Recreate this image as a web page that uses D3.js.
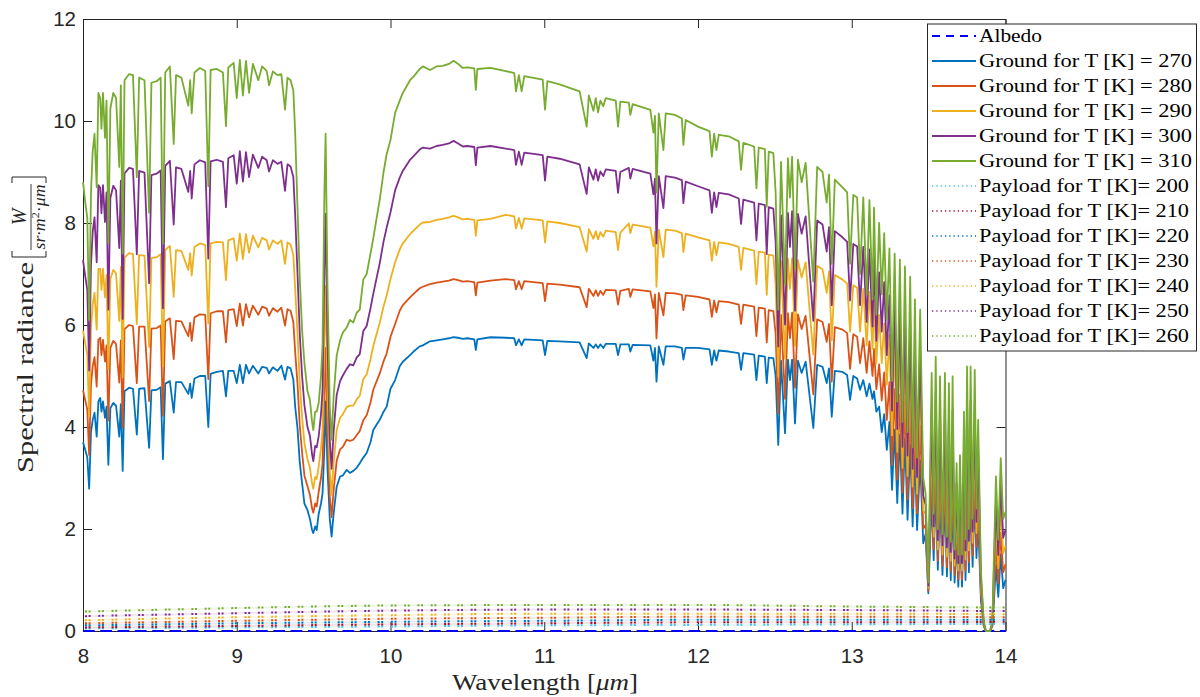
<!DOCTYPE html>
<html><head><meta charset="utf-8">
<script src="https://cdn.jsdelivr.net/npm/d3@7"></script>
<style>body{margin:0;background:#fff}svg{display:block}</style>
</head><body>
<svg id="chart" width="1200" height="697"></svg>
<script>
// Wavelength grid [µm] shared by the five ground spectra
const wavelength = [8.000,8.015,8.028,8.040,8.052,8.063,8.075,8.089,8.100,8.112,8.120,8.130,8.143,8.153,8.165,8.178,8.197,8.215,8.236,8.246,8.258,8.270,8.300,8.325,8.350,8.365,8.400,8.430,8.445,8.480,8.505,8.520,8.535,8.565,8.590,8.605,8.640,8.685,8.697,8.707,8.725,8.760,8.795,8.815,8.830,8.870,8.910,8.930,8.945,8.980,9.000,9.020,9.040,9.060,9.080,9.105,9.140,9.165,9.195,9.210,9.235,9.265,9.290,9.314,9.330,9.350,9.368,9.380,9.395,9.410,9.425,9.440,9.460,9.476,9.490,9.498,9.510,9.520,9.533,9.548,9.558,9.570,9.578,9.590,9.605,9.617,9.630,9.650,9.672,9.690,9.715,9.736,9.758,9.780,9.800,9.823,9.845,9.870,9.888,9.910,9.930,9.955,9.975,10.000,10.030,10.060,10.080,10.127,10.150,10.190,10.210,10.257,10.300,10.340,10.380,10.410,10.440,10.470,10.500,10.545,10.555,10.565,10.650,10.750,10.805,10.816,10.835,10.853,10.870,10.990,11.005,11.020,11.100,11.230,11.276,11.290,11.320,11.335,11.350,11.365,11.384,11.400,11.465,11.480,11.495,11.550,11.560,11.575,11.690,11.710,11.720,11.730,11.745,11.775,11.790,11.850,11.895,11.905,11.920,12.000,12.075,12.090,12.105,12.120,12.135,12.200,12.265,12.280,12.295,12.365,12.380,12.395,12.435,12.447,12.460,12.490,12.505,12.522,12.540,12.566,12.585,12.598,12.612,12.631,12.650,12.674,12.700,12.750,12.775,12.810,12.837,12.852,12.870,12.890,12.940,12.970,12.989,13.010,13.035,13.054,13.075,13.097,13.115,13.135,13.145,13.160,13.178,13.195,13.211,13.228,13.245,13.262,13.279,13.296,13.313,13.330,13.346,13.363,13.380,13.396,13.411,13.425,13.445,13.465,13.480,13.498,13.520,13.533,13.546,13.560,13.574,13.590,13.606,13.619,13.632,13.644,13.656,13.669,13.682,13.693,13.704,13.717,13.730,13.740,13.750,13.762,13.773,13.786,13.800,13.811,13.822,13.840,13.858,13.872,13.900,13.915,13.925,13.938,13.953,13.969,13.985,14.000];

// Spectral radiance [W/(sr m^2 µm)] seen from ground at each temperature
const ground270 = [3.70,3.55,3.40,2.79,3.90,4.14,4.28,3.81,4.50,4.57,4.30,4.50,4.18,4.40,3.26,4.37,4.47,4.42,3.81,4.45,3.14,4.70,4.77,4.75,3.85,4.75,4.76,3.59,4.72,4.73,4.78,3.37,4.85,4.90,4.28,4.88,4.88,4.65,4.85,4.57,4.95,5.00,5.00,4.00,5.04,5.08,5.10,4.60,5.10,5.10,4.86,5.22,4.86,5.22,5.05,5.20,5.05,5.18,5.16,5.05,5.17,5.10,5.20,4.93,5.18,5.15,4.93,4.40,3.98,3.30,2.90,2.50,2.37,2.20,1.98,1.92,2.05,1.98,2.30,2.50,2.70,3.60,4.50,3.20,2.20,1.85,2.30,2.83,3.03,3.05,3.16,3.10,3.14,3.20,3.29,3.40,3.49,3.70,3.94,4.05,4.14,4.30,4.40,4.75,4.92,5.19,5.28,5.41,5.48,5.58,5.60,5.68,5.70,5.72,5.74,5.76,5.75,5.73,5.74,5.72,5.51,5.72,5.76,5.75,5.74,5.60,5.72,5.60,5.72,5.70,5.41,5.69,5.68,5.66,5.35,5.64,5.55,5.62,5.55,5.62,5.55,5.63,5.63,5.41,5.62,5.62,5.48,5.61,5.60,5.30,5.55,4.89,5.58,5.22,5.58,5.58,5.55,5.32,5.55,5.55,5.52,5.22,5.50,5.30,5.50,5.48,5.45,5.12,5.45,5.42,4.92,5.40,5.38,4.86,5.36,5.35,5.00,3.65,5.30,3.88,5.32,4.92,5.32,4.07,5.30,5.06,5.28,3.98,5.22,5.18,4.86,5.15,4.20,5.10,5.08,5.02,4.53,5.00,4.95,4.73,4.92,4.60,4.85,4.55,4.70,4.30,4.40,3.90,4.25,3.55,4.10,2.77,3.95,2.51,3.85,2.30,3.78,2.18,3.65,2.05,3.45,1.98,3.35,1.72,1.90,0.74,2.60,1.39,2.80,1.20,2.60,1.10,2.60,1.07,2.50,1.00,2.60,0.95,1.80,0.87,1.90,0.87,2.30,1.00,2.70,1.15,2.70,1.26,2.65,1.43,2.20,0.60,0.10,0.00,0.00,0.10,0.60,1.30,0.67,1.50,0.84,1.00];
const ground280 = [4.72,4.52,4.34,3.45,4.84,5.19,5.37,4.79,5.71,5.75,5.41,5.71,5.28,5.60,4.13,5.55,5.69,5.63,4.87,5.70,3.99,5.92,6.00,5.98,4.86,5.97,5.97,4.51,5.93,5.94,5.99,4.22,6.07,6.13,5.33,6.08,6.07,5.78,6.04,5.69,6.15,6.21,6.20,4.94,6.23,6.27,6.27,5.66,6.29,6.31,5.98,6.42,5.99,6.41,6.15,6.38,6.20,6.36,6.32,6.18,6.33,6.26,6.34,5.99,6.31,6.28,6.06,5.47,4.85,4.02,3.50,3.05,2.84,2.67,2.40,2.32,2.50,2.44,2.73,3.00,3.28,4.60,5.55,3.92,2.64,2.23,2.76,3.34,3.56,3.61,3.75,3.73,3.75,3.84,3.92,4.13,4.23,4.48,4.73,4.90,5.05,5.29,5.44,5.77,6.02,6.28,6.39,6.54,6.61,6.72,6.75,6.80,6.83,6.85,6.87,6.90,6.88,6.85,6.86,6.84,6.58,6.83,6.87,6.90,6.88,6.70,6.86,6.70,6.86,6.82,6.47,6.81,6.79,6.74,6.35,6.71,6.57,6.68,6.57,6.67,6.59,6.69,6.68,6.40,6.67,6.71,6.55,6.70,6.66,6.33,6.60,5.74,6.63,6.19,6.63,6.62,6.59,6.29,6.58,6.55,6.50,6.16,6.48,6.25,6.47,6.45,6.40,6.02,6.40,6.36,5.78,6.34,6.32,5.66,6.29,6.27,5.83,4.26,6.20,4.55,6.23,5.74,6.24,4.77,6.21,5.92,6.18,4.64,6.11,6.06,5.67,6.02,4.89,5.96,5.91,5.84,5.14,5.82,5.77,5.25,5.74,5.06,5.68,5.00,5.53,4.74,5.23,4.52,5.07,4.14,4.88,3.26,4.74,2.97,4.64,2.71,4.56,2.58,4.41,2.41,4.15,2.31,4.03,2.01,2.08,0.79,3.17,1.60,3.39,1.38,3.15,1.28,3.17,1.25,3.04,1.17,3.15,1.10,2.14,1.01,2.26,1.01,2.76,1.18,3.27,1.35,3.27,1.48,3.22,1.65,2.65,0.74,0.12,0.00,0.00,0.12,0.81,1.70,0.93,1.93,1.15,1.31];
const ground290 = [5.89,5.64,5.42,4.21,5.92,6.40,6.63,5.91,7.10,7.10,6.69,7.10,6.54,6.98,5.13,6.90,7.08,7.01,6.08,7.14,4.97,7.32,7.41,7.39,6.02,7.37,7.36,5.57,7.31,7.33,7.39,5.19,7.47,7.55,6.55,7.47,7.45,7.08,7.41,6.97,7.53,7.60,7.57,6.03,7.60,7.63,7.62,6.88,7.66,7.70,7.26,7.79,7.29,7.78,7.42,7.75,7.52,7.71,7.66,7.48,7.66,7.59,7.66,7.20,7.62,7.58,7.37,6.71,5.85,4.85,4.19,3.69,3.37,3.20,2.89,2.79,3.02,2.98,3.23,3.58,3.95,5.75,6.76,4.75,3.15,2.67,3.29,3.94,4.18,4.25,4.39,4.42,4.42,4.54,4.61,4.94,5.03,5.33,5.59,5.83,6.04,6.37,6.58,6.90,7.23,7.48,7.60,7.78,7.85,7.97,8.01,8.02,8.06,8.08,8.11,8.14,8.11,8.07,8.08,8.06,7.75,8.05,8.08,8.16,8.13,7.89,8.10,7.89,8.09,8.05,7.62,8.03,8.00,7.92,7.44,7.88,7.69,7.84,7.68,7.82,7.73,7.85,7.82,7.47,7.81,7.99,7.80,7.97,7.91,7.54,7.83,6.75,7.87,7.33,7.87,7.85,7.80,7.43,7.79,7.72,7.66,7.26,7.63,7.37,7.62,7.59,7.53,7.08,7.51,7.46,6.80,7.44,7.42,6.59,7.38,7.36,6.80,4.98,7.25,5.34,7.30,6.71,7.31,5.59,7.27,6.93,7.23,5.42,7.16,7.09,6.63,7.05,5.70,6.98,6.89,6.81,5.87,6.78,6.73,5.87,6.71,5.60,6.65,5.53,6.50,5.25,6.20,5.25,6.03,4.83,5.80,3.84,5.68,3.51,5.57,3.20,5.47,3.04,5.30,2.83,4.98,2.69,4.83,2.36,2.30,0.85,3.83,1.85,4.09,1.60,3.80,1.50,3.83,1.46,3.68,1.38,3.80,1.28,2.55,1.19,2.68,1.19,3.30,1.40,3.95,1.58,3.95,1.73,3.89,1.92,3.17,0.90,0.15,0.00,0.00,0.15,1.05,2.17,1.23,2.45,1.52,1.67];
const ground300 = [7.27,6.95,6.69,5.11,7.19,7.82,8.11,7.23,8.74,8.69,8.19,8.74,8.02,8.60,6.30,8.49,8.73,8.64,7.51,8.83,6.12,8.97,9.08,9.06,7.39,9.02,8.99,6.82,8.94,8.97,9.03,6.33,9.12,9.22,7.97,9.09,9.06,8.61,9.02,8.48,9.15,9.23,9.19,7.30,9.21,9.24,9.20,8.31,9.27,9.33,8.77,9.41,8.81,9.39,8.90,9.34,9.08,9.30,9.23,9.01,9.23,9.16,9.20,8.63,9.15,9.11,8.90,8.16,7.02,5.82,5.00,4.43,4.00,3.83,3.46,3.33,3.63,3.60,3.82,4.25,4.73,7.10,8.18,5.72,3.74,3.18,3.91,4.63,4.90,5.01,5.14,5.23,5.21,5.36,5.43,5.88,5.98,6.33,6.61,6.93,7.21,7.64,7.91,8.21,8.64,8.89,9.02,9.24,9.31,9.44,9.48,9.46,9.51,9.53,9.56,9.61,9.56,9.50,9.51,9.49,9.13,9.48,9.51,9.46,9.43,9.14,9.40,9.14,9.38,9.33,8.83,9.30,9.26,9.15,8.57,9.09,8.85,9.05,8.83,9.01,8.92,9.05,9.02,8.59,9.00,9.08,8.87,9.06,8.97,8.56,8.87,7.60,8.92,8.29,8.92,8.89,8.84,8.39,8.81,8.72,8.64,8.20,8.60,8.31,8.59,8.56,8.48,7.98,8.46,8.40,7.66,8.38,8.35,7.39,8.31,8.28,7.63,5.58,8.15,6.01,8.20,7.53,8.23,6.28,8.18,7.79,8.13,6.08,8.05,7.97,7.44,7.92,6.39,7.84,7.72,7.63,6.48,7.59,7.54,6.39,7.53,6.06,7.48,5.97,7.33,5.69,7.03,5.87,6.84,5.41,6.58,4.32,6.47,3.96,6.35,3.61,6.24,3.44,6.06,3.18,5.68,3.02,5.50,2.65,2.48,0.89,4.40,2.05,4.68,1.78,4.34,1.68,4.40,1.64,4.22,1.55,4.34,1.42,2.89,1.33,3.03,1.33,3.76,1.58,4.52,1.77,4.52,1.95,4.45,2.14,3.62,1.04,0.17,0.00,0.00,0.17,1.26,2.56,1.49,2.88,1.83,1.98];
const ground310 = [8.80,8.40,8.10,6.10,8.60,9.40,9.75,8.70,10.55,10.45,9.85,10.55,9.67,10.40,7.60,10.25,10.55,10.45,9.10,10.70,7.40,10.80,10.92,10.90,8.90,10.85,10.80,8.20,10.75,10.78,10.85,7.60,10.95,11.07,9.55,10.90,10.85,10.30,10.80,10.15,10.95,11.04,10.98,8.72,11.00,11.02,10.95,9.90,11.05,11.14,10.45,11.20,10.50,11.18,10.55,11.12,10.80,11.07,10.98,10.70,10.97,10.90,10.92,10.22,10.85,10.80,10.60,9.77,8.32,6.90,5.90,5.26,4.70,4.53,4.10,3.94,4.30,4.30,4.47,5.00,5.60,8.60,9.75,6.80,4.40,3.75,4.60,5.40,5.70,5.85,5.95,6.10,6.05,6.24,6.30,6.89,7.00,7.40,7.70,8.10,8.46,9.00,9.35,9.63,10.16,10.40,10.55,10.80,10.87,11.02,11.07,11.00,11.07,11.08,11.12,11.18,11.12,11.04,11.05,11.03,10.61,11.02,11.04,10.98,10.94,10.58,10.90,10.58,10.88,10.81,10.22,10.78,10.72,10.58,9.89,10.50,10.20,10.45,10.17,10.40,10.29,10.45,10.40,9.89,10.38,10.36,10.12,10.33,10.22,9.77,10.10,8.60,10.15,9.43,10.15,10.12,10.05,9.53,10.02,9.89,9.80,9.30,9.75,9.43,9.73,9.70,9.60,9.04,9.57,9.50,8.68,9.48,9.45,8.32,9.40,9.37,8.60,6.30,9.20,6.80,9.27,8.50,9.30,7.10,9.24,8.80,9.18,6.85,9.10,9.00,8.40,8.95,7.20,8.85,8.70,8.60,7.20,8.55,8.50,7.00,8.50,6.60,8.45,6.50,8.30,6.20,8.00,6.60,7.80,6.10,7.50,4.90,7.40,4.50,7.28,4.10,7.15,3.90,6.95,3.60,6.50,3.40,6.30,3.00,2.70,0.95,5.06,2.30,5.38,2.00,4.99,1.90,5.06,1.85,4.86,1.75,4.99,1.60,3.29,1.50,3.45,1.50,4.30,1.80,5.19,2.00,5.19,2.20,5.12,2.40,4.14,1.20,0.20,0.00,0.00,0.20,1.50,3.03,1.79,3.39,2.20,2.34];

// Radiance emitted by the payload at each temperature
const payloadWavelength = [8, 9, 10, 11, 12, 13, 14];
const payload200 = [0.05, 0.07, 0.09, 0.11, 0.12, 0.13, 0.14];
const payload210 = [0.07, 0.10, 0.13, 0.15, 0.17, 0.17, 0.18];
const payload220 = [0.11, 0.15, 0.18, 0.20, 0.22, 0.22, 0.22];
const payload230 = [0.15, 0.20, 0.24, 0.26, 0.28, 0.28, 0.27];
const payload240 = [0.21, 0.27, 0.31, 0.34, 0.34, 0.34, 0.33];
const payload250 = [0.29, 0.35, 0.40, 0.42, 0.42, 0.41, 0.39];
const payload260 = [0.38, 0.45, 0.50, 0.51, 0.51, 0.48, 0.46];

// Albedo contribution
const albedoWavelength = [8, 14];
const albedo = [0, 0];

const groundTemps = [270, 280, 290, 300, 310];
const payloadTemps = [200, 210, 220, 230, 240, 250, 260];
const xTicks = [8, 9, 10, 11, 12, 13, 14];
const yTicks = [0, 2, 4, 6, 8, 10, 12];

const groundColors = ["#0072BD", "#D95319", "#EDB120", "#7E2F8E", "#77AC30"];
const payloadColors = ["#4DBEEE", "#A2142F", "#0072BD", "#D95319", "#EDB120", "#7E2F8E", "#77AC30"];

const svg = d3.select("#chart");
const plotLeft = 83, plotRight = 1005.5, plotTop = 19, plotBottom = 631;
const x = d3.scaleLinear().domain([8, 14]).range([plotLeft, plotRight]);
const y = d3.scaleLinear().domain([0, 12]).range([plotBottom, plotTop]);
const axisColor = "#262626";

// Axes box with inward ticks
function styleAxis(g) {
  g.select(".domain").attr("stroke", axisColor).attr("stroke-width", 1).attr("fill", "none");
  g.selectAll(".tick line").attr("stroke", axisColor).attr("stroke-width", 1);
  g.selectAll(".tick text").attr("fill", axisColor)
    .attr("font-family", "'Liberation Sans', Arial, sans-serif").attr("font-size", 20.5);
}
svg.append("g").attr("transform", `translate(0,${plotBottom})`)
  .call(d3.axisBottom(x).tickValues(xTicks).tickSize(-9).tickSizeOuter(0).tickPadding(17).tickFormat(d3.format("d")))
  .call(styleAxis);
svg.append("g").attr("transform", `translate(0,${plotTop})`)
  .call(d3.axisTop(x).tickValues(xTicks).tickSize(-9).tickSizeOuter(0).tickFormat(""))
  .call(styleAxis);
svg.append("g").attr("transform", `translate(${plotLeft},0)`)
  .call(d3.axisLeft(y).tickValues(yTicks).tickSize(-9).tickSizeOuter(0).tickPadding(7).tickFormat(d3.format("d")))
  .call(styleAxis);
svg.append("g").attr("transform", `translate(${plotRight},0)`)
  .call(d3.axisRight(y).tickValues(yTicks).tickSize(-9).tickSizeOuter(0).tickFormat(""))
  .call(styleAxis);

// Albedo
const albedoLine = d3.line().x((d, i) => x(albedoWavelength[i])).y(d => y(d));
svg.append("path").attr("d", albedoLine(albedo)).attr("fill", "none")
  .attr("stroke", "#0000FF").attr("stroke-width", 2.2).attr("stroke-dasharray", "11.7,5.6");

// Ground spectra
const groundSeries = [ground270, ground280, ground290, ground300, ground310];
const groundLine = d3.line().x((d, i) => x(wavelength[i])).y(d => y(d));
groundSeries.forEach((s, k) => {
  svg.append("path").attr("d", groundLine(s)).attr("fill", "none")
    .attr("stroke", groundColors[k]).attr("stroke-width", 1.8).attr("stroke-linejoin", "round");
});

// Payload spectra (dotted)
const payloadSeries = [payload200, payload210, payload220, payload230, payload240, payload250, payload260];
const payloadLine = d3.line().x((d, i) => x(payloadWavelength[i])).y(d => y(d)).curve(d3.curveMonotoneX);
payloadSeries.forEach((s, k) => {
  svg.append("path").attr("d", payloadLine(s)).attr("fill", "none")
    .attr("stroke", payloadColors[k]).attr("stroke-width", 2).attr("stroke-opacity", 0.12);
  svg.append("path").attr("d", payloadLine(s)).attr("fill", "none")
    .attr("stroke", payloadColors[k]).attr("stroke-width", 2)
    .attr("stroke-dasharray", "2,1.6,2,7.7").attr("stroke-dashoffset", -2);
});

// Axis labels
const serif = "'Liberation Serif', 'Times New Roman', serif";
const xl = svg.append("text").attr("x", 452).attr("y", 690).attr("font-family", serif)
  .attr("font-size", 24).attr("fill", axisColor).attr("textLength", 186).attr("lengthAdjust", "spacingAndGlyphs");
xl.append("tspan").text("Wavelength [");
xl.append("tspan").attr("font-style", "italic").text("μm");
xl.append("tspan").text("]");

const yl = svg.append("g").attr("transform", "translate(33,473) rotate(-90)").attr("fill", axisColor);
yl.append("text").attr("x", 0).attr("y", 0).attr("font-family", serif).attr("font-size", 24)
  .attr("textLength", 211).attr("lengthAdjust", "spacingAndGlyphs").text("Spectral radiance");
yl.append("path").attr("d", "M222,-21H216V13H222").attr("fill", "none").attr("stroke", axisColor).attr("stroke-width", 1);
yl.append("path").attr("d", "M290,-21H296V13H290").attr("fill", "none").attr("stroke", axisColor).attr("stroke-width", 1);
yl.append("text").attr("x", 256).attr("y", -7).attr("text-anchor", "middle").attr("font-family", serif)
  .attr("font-style", "italic").attr("font-size", 20).text("W");
yl.append("line").attr("x1", 223).attr("x2", 289).attr("y1", -2).attr("y2", -2).attr("stroke", axisColor).attr("stroke-width", 0.9);
const den = yl.append("text").attr("x", 223.5).attr("y", 12).attr("font-family", serif)
  .attr("font-style", "italic").attr("font-size", 16).attr("textLength", 65).attr("lengthAdjust", "spacingAndGlyphs");
den.append("tspan").text("sr·m");
den.append("tspan").attr("font-size", 11).attr("dy", -6).attr("font-style", "normal").text("2");
den.append("tspan").attr("dy", 6).attr("font-style", "normal").text("·");
den.append("tspan").text("μm");

// Legend
const legendItems = [{label: "Albedo", color: "#0000FF", dash: "8,6", w: 2, len: 63}]
  .concat(groundTemps.map((t, k) => ({label: `Ground for T [K] = ${t}`, color: groundColors[k], dash: null, w: 2, len: 213})))
  .concat(payloadTemps.map((t, k) => ({label: `Payload for T [K]= ${t}`, color: payloadColors[k], dash: "1.3,3", w: 1.5, len: 210})));
const lg = svg.append("g");
lg.append("rect").attr("x", 927.5).attr("y", 24).attr("width", 269).attr("height", 327)
  .attr("fill", "#fff").attr("stroke", axisColor).attr("stroke-width", 1);
legendItems.forEach((it, i) => {
  const cy = 36 + i * 25;
  lg.append("line").attr("x1", 932).attr("x2", 976).attr("y1", cy).attr("y2", cy)
    .attr("stroke", it.color).attr("stroke-width", it.w).attr("stroke-dasharray", it.dash);
  lg.append("text").attr("x", 979).attr("y", cy + 6).attr("font-family", serif).attr("font-size", 19.5)
    .attr("fill", "#000").attr("textLength", it.len).attr("lengthAdjust", "spacingAndGlyphs").text(it.label);
});
</script>
</body></html>
